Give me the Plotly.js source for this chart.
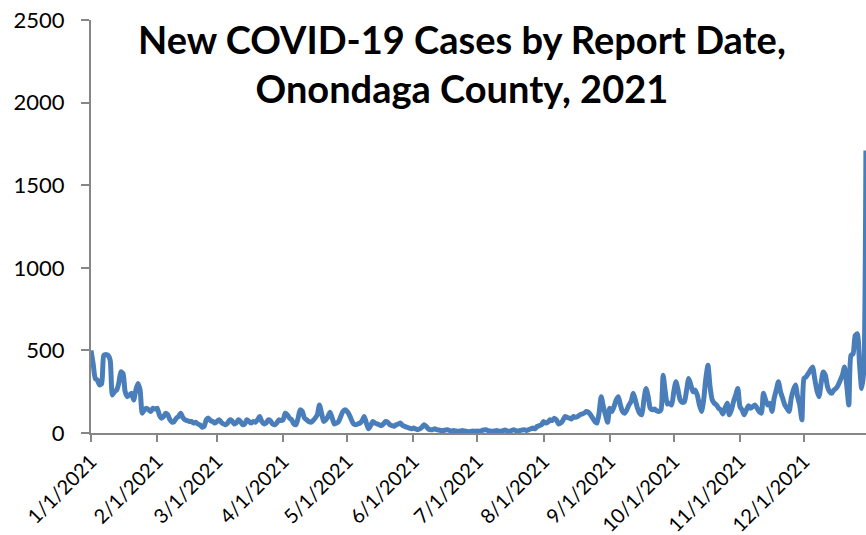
<!DOCTYPE html>
<html>
<head>
<meta charset="utf-8">
<script src="https://cdn.plot.ly/plotly-3.0.1.min.js"></script>
<style>html,body{margin:0;padding:0;background:#fff;}#chart{width:866px;height:535px;}</style>
</head>
<body>
<div id="chart"></div>
<script>
// Daily new cases by month
const startDate = '2021-01-01';
const jan = [500,420,330,320,290,300,470,475,470,440,230,250,260,300,370,360,250,220,230,240,200,260,300,260,120,140,150,140,130,150,145];
const feb = [150,110,90,100,120,110,80,65,70,90,100,120,95,80,75,70,70,60,65,55,50,35,40,80,90,75,70,60];
const mar = [70,80,65,55,50,60,80,75,55,60,80,70,50,55,80,70,60,70,65,80,100,70,55,60,80,75,55,50,60,80,75];
const apr = [80,120,110,90,80,55,50,90,140,130,90,80,70,65,75,90,110,170,120,70,80,100,125,90,55,60,70,100,130,140];
const may = [130,110,80,55,50,55,60,75,100,60,25,45,70,60,55,50,45,55,70,65,50,45,40,50,55,60,45,40,35,30,25];
const jun = [30,25,20,25,35,50,40,25,20,20,25,20,18,15,15,18,20,15,12,15,12,10,12,15,12,10,8,10,12,10];
const jul = [12,10,15,18,20,15,12,10,12,15,12,10,15,18,12,10,15,20,15,12,15,18,20,15,20,25,30,25,40,45,50];
const aug = [70,60,65,80,75,90,80,55,60,75,100,95,90,85,100,95,100,110,115,120,130,125,110,90,70,60,120,220,160,110,65];
const sep = [150,130,160,200,220,170,130,120,140,170,190,240,200,150,120,110,200,270,220,150,140,145,135,130,140,350,250,175,180,170];
const oct = [250,310,260,200,185,190,260,330,290,250,260,230,170,130,200,330,410,280,200,180,170,150,140,115,150,180,110,140,190,230,270];
const nov = [160,140,110,140,165,150,160,170,150,130,120,240,200,170,180,130,210,260,310,250,210,170,150,130,210,260,290,220,170,80];
const dec = [330,340,360,380,400,330,260,220,300,370,350,280,250,240,260,270,290,320,350,400,290,170,470,480,590,600,420,270,380,1710];

const cases = [].concat(jan,feb,mar,apr,may,jun,jul,aug,sep,oct,nov,dec);
const dates = cases.map((_, i) => {
  const d = new Date(Date.UTC(2021, 0, 1 + i));
  return d.toISOString().slice(0, 10);
});

const trace = {
  x: dates,
  y: cases,
  type: 'scatter',
  mode: 'lines',
  line: {color: '#4A7EBB', width: 5, shape: 'spline', smoothing: 0.6},
  hoverinfo: 'x+y'
};

const axisGray = '#868686';
const layout = {
  width: 866,
  height: 535,
  margin: {l: 91, r: 0, t: 20, b: 102},
  paper_bgcolor: '#ffffff',
  plot_bgcolor: '#ffffff',
  showlegend: false,
  font: {family: 'Lato, "Liberation Sans", sans-serif', color: '#000000'},
  annotations: [{
    text: '<b>New COVID-19 Cases by Report Date,<br>Onondaga County, 2021</b>',
    font: {family: 'Lato, "Open Sans", sans-serif', size: 38, color: '#000000'},
    xref: 'paper', yref: 'paper',
    x: 0.4787, xanchor: 'center',
    y: 1.015, yanchor: 'top',
    showarrow: false, align: 'center'
  }],
  xaxis: {
    type: 'date',
    range: [startDate, '2021-12-30 01:00'],
    tick0: startDate,
    dtick: 'M1',
    tickformat: '%-m/%-d/%Y',
    tickangle: -45,
    ticks: 'outside',
    ticklen: 7,
    tickwidth: 2,
    tickcolor: axisGray,
    showline: true,
    linecolor: axisGray,
    linewidth: 2,
    showgrid: false,
    zeroline: false,
    tickfont: {size: 20, color: '#000000'}
  },
  yaxis: {
    range: [0, 2500],
    tickvals: [0, 500, 1000, 1500, 2000, 2500],
    ticks: 'outside',
    ticklen: 8,
    tickwidth: 2,
    tickcolor: axisGray,
    ticklabelstandoff: 12,
    showline: true,
    linecolor: axisGray,
    linewidth: 2,
    showgrid: false,
    zeroline: false,
    tickfont: {size: 22, color: '#000000'}
  }
};

Plotly.newPlot('chart', [trace], layout, {displayModeBar: false, staticPlot: true});
</script>
</body>
</html>
